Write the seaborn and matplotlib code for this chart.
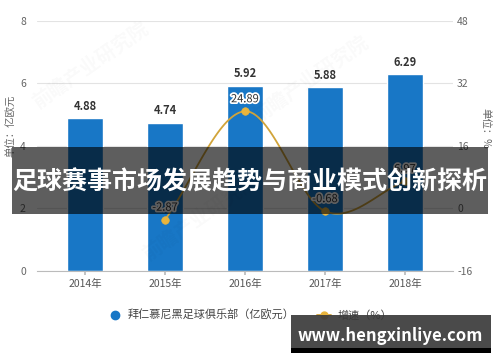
import numpy as np
import pandas as pd
import matplotlib
matplotlib.use("Agg")
import matplotlib.pyplot as plt
import matplotlib.patheffects as pe
from matplotlib.lines import Line2D
from matplotlib.patches import Rectangle
import seaborn as sns

years = ["2014年", "2015年", "2016年", "2017年", "2018年"]
revenue = [4.88, 4.74, 5.92, 5.88, 6.29]
growth = [np.nan, -2.87, 24.89, -0.68, 6.97]
left_ticks = [0, 2, 4, 6, 8]
right_ticks = [-16, 0, 16, 32, 48]
bar_label = "拜仁慕尼黑足球俱乐部（亿欧元）"
line_label = "增速（%）"
title = "足球赛事市场发展趋势与商业模式创新探析"
site = "www.hengxinliye.com"

sns.set_theme(style="white")
plt.rcParams['font.family'] = ['Noto Sans CJK SC', 'DejaVu Sans']

BLUE = "#1877c6"
GOLD = "#e8b43c"
GOLD_LINE = "#d1a43a"
GREY = "#666666"

df = pd.DataFrame({"year": years, "revenue": revenue, "growth": growth})

fig = plt.figure(figsize=(5, 3.62), dpi=100)
ax = fig.add_axes([0.074, 0.2514, 0.832, 0.6906])
sns.barplot(data=df, x="year", y="revenue", color=BLUE, width=0.46,
            saturation=1, ax=ax, zorder=2)
ax.set_xlim(-0.6, 4.6)
ax.set_ylim(0, 8)
ax.set_yticks(left_ticks)
ax.set_yticklabels([str(t) for t in left_ticks], color=GREY, fontsize=7.5)
ax.tick_params(axis="y", length=0, pad=8)
ax.tick_params(axis="x", length=3, color="#bbbbbb", labelsize=7.5,
               labelcolor="#555555", pad=3, bottom=True, direction="out")
ax.set_xlabel("")
ax.set_ylabel("单位：亿欧元", fontsize=7.5, color=GREY, labelpad=6)
ax.yaxis.set_label_coords(-0.05, 0.58)
ax.grid(axis="y", color="#e3e3e3", linewidth=0.8, zorder=0)
for s in ["top", "left", "right"]:
    ax.spines[s].set_visible(False)
ax.spines["bottom"].set_color("#bbbbbb")
ax.spines["bottom"].set_linewidth(0.8)

for i, v in enumerate(revenue):
    ax.text(i, v + 0.18, f"{v:.2f}", ha="center", va="bottom", fontsize=8,
            fontweight="bold", color="#333333", zorder=5)

ax2 = ax.twinx()
ax2.set_ylim(-16, 48)
ax2.set_yticks(right_ticks)
ax2.set_yticklabels([str(t) for t in right_ticks], color=GREY, fontsize=7.5)
ax2.tick_params(axis="y", length=0, pad=3)
for s in ["top", "left", "right", "bottom"]:
    ax2.spines[s].set_visible(False)
ax2.set_ylabel("单位：%", fontsize=7.5, color=GREY, rotation=-90, labelpad=10)
ax2.yaxis.set_label_coords(1.09, 0.57)

# smooth (Catmull-Rom) curve through the growth points
xs = np.array([i for i, g in enumerate(growth) if not np.isnan(g)], dtype=float)
ys = np.array([g for g in growth if not np.isnan(g)], dtype=float)
px = np.concatenate([[2 * xs[0] - xs[1]], xs, [2 * xs[-1] - xs[-2]]])
py = np.concatenate([[2 * ys[0] - ys[1]], ys, [2 * ys[-1] - ys[-2]]])
cx, cy = [], []
t = np.linspace(0, 1, 40)
for k in range(1, len(px) - 2):
    p0, p1, p2, p3 = py[k - 1], py[k], py[k + 1], py[k + 2]
    q0, q1, q2, q3 = px[k - 1], px[k], px[k + 1], px[k + 2]
    def cr(a0, a1, a2, a3):
        return 0.5 * ((2 * a1) + (-a0 + a2) * t + (2 * a0 - 5 * a1 + 4 * a2 - a3) * t ** 2
                      + (-a0 + 3 * a1 - 3 * a2 + a3) * t ** 3)
    cx.append(cr(q0, q1, q2, q3))
    cy.append(cr(p0, p1, p2, p3))
cx = np.concatenate(cx)
cy = np.concatenate(cy)
ax2.plot(cx, cy, color=GOLD_LINE, linewidth=1.3, zorder=3)
sns.scatterplot(x=xs, y=ys, color=GOLD, s=30, edgecolor=GOLD, ax=ax2, zorder=4,
                legend=False)
for xv, yv in zip(xs, ys):
    ax2.text(xv, yv + 1.8, f"{yv:.2f}", ha="center", va="bottom", fontsize=8,
             color="#333333", zorder=6,
             path_effects=[pe.withStroke(linewidth=2.5, foreground="white")])

# faint watermarks
for (wx, wy) in [(0.18, 0.82), (0.62, 0.78), (0.40, 0.40)]:
    fig.text(wx, wy, "前瞻产业研究院", fontsize=14, color="#000000", alpha=0.025,
             rotation=35, ha="center", va="center", fontweight="bold")

handles = [
    Line2D([0], [0], marker="o", linestyle="none", color=BLUE, markersize=6),
    Line2D([0], [0], marker="o", color=GOLD_LINE, markerfacecolor=GOLD,
           markeredgecolor=GOLD, markersize=5, linewidth=1.3),
]
fig.legend(handles, [bar_label, line_label], loc="center", ncol=2,
           bbox_to_anchor=(0.5, 0.128), frameon=False, fontsize=8,
           handlelength=1.2, columnspacing=2.0, handletextpad=0.6,
           labelcolor="#444444")

# banner overlay
fig.patches.append(Rectangle((12 / 500, 1 - 214 / 362), 476 / 500, 67 / 362,
                             transform=fig.transFigure, facecolor="black",
                             alpha=0.63, edgecolor="none", zorder=10))
fig.text(0.5, 1 - 182 / 362, title, ha="center", va="center", fontsize=18,
         fontweight="bold", color="white", zorder=11)

# site watermark box
fig.patches.append(Rectangle((291 / 500, 1 - 353 / 362), 200 / 500, 38 / 362,
                             transform=fig.transFigure, facecolor="#3a3a3a",
                             alpha=0.92, edgecolor="none", zorder=10))
fig.patches.append(Rectangle((291 / 500, 1 - 353 / 362), 200 / 500, 5 / 362,
                             transform=fig.transFigure, facecolor="black",
                             edgecolor="none", zorder=10))
fig.text(390 / 500, 1 - 336 / 362, site, ha="center", va="center", fontsize=12,
         fontweight="bold", color="white", zorder=11)

fig.savefig("out.png", dpi=100)
